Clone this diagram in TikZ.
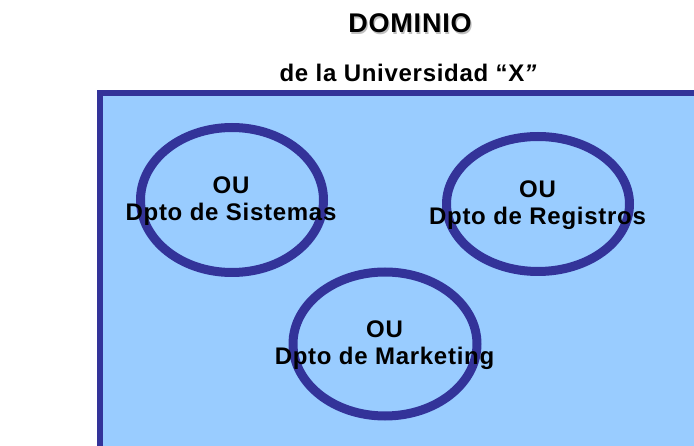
\documentclass[tikz,border=0pt]{standalone}
\usepackage{fontspec}
\setmainfont{Liberation Sans}
\newfontfamily\lblfont[LetterSpace=3]{Liberation Sans}
\usetikzlibrary{shapes.geometric}
\definecolor{ouBlue}{HTML}{333399}
\definecolor{domFill}{HTML}{99CCFF}
\begin{document}
\begin{tikzpicture}[x=1pt,y=-1pt,
  ouell/.style={ellipse, draw=ouBlue, line width=9pt, inner sep=0pt},
  oulbl/.style={font=\lblfont\bfseries\fontsize{24}{26.7}\selectfont, align=center, text=black, inner sep=0pt},
  titlelbl/.style={font=\lblfont\bfseries\fontsize{27}{30}\selectfont, inner sep=0pt, anchor=base},
  sublbl/.style={font=\lblfont\bfseries\fontsize{24}{27}\selectfont, inner sep=0pt, anchor=base}]
\useasboundingbox (0,0) rectangle (694,446);
\begin{scope}
\clip (0,0) rectangle (694,446);
\draw[draw=ouBlue, fill=domFill, line width=6pt] (99.5,93) rectangle (720,470);
\end{scope}
% title
\node[titlelbl, text=black!25] (titleshadow) at (411.2,34.2) {DOMINIO};
\node[titlelbl, text=black] (title) at (410,33) {DOMINIO};
\node[sublbl] (subtitle) at (408,81.7) {de la Universidad “X{\itshape ”}};
% OUs
\node[ouell, minimum width=183pt, minimum height=145pt] (e1) at (232,200) {};
\node[ouell, minimum width=183pt, minimum height=135pt] (e2) at (538,204) {};
\node[ouell, minimum width=184pt, minimum height=144pt] (e3) at (385,344) {};
\node[oulbl] (t1) at (231,201) {OU\\Dpto de Sistemas};
\node[oulbl] (t2) at (537.5,205) {OU\\Dpto de Registros};
\node[oulbl] (t3) at (384.5,345) {OU\\Dpto de Marketing};
\end{tikzpicture}
\end{document}
